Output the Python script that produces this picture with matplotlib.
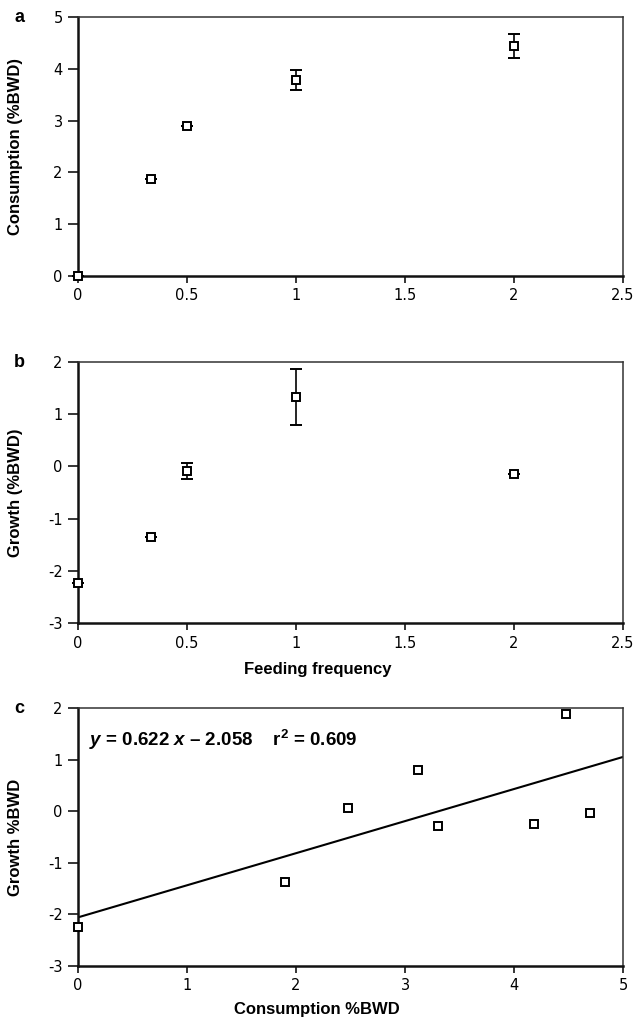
import numpy as np
import matplotlib
matplotlib.use("Agg")
import matplotlib.pyplot as plt

plt.rcParams["axes.unicode_minus"] = False
plt.rcParams["mathtext.fontset"] = "custom"
plt.rcParams["mathtext.rm"] = "Liberation Sans:bold"
plt.rcParams["mathtext.bf"] = "Liberation Sans:bold"
plt.rcParams["mathtext.it"] = "Liberation Sans:italic:bold"
plt.rcParams["mathtext.bfit"] = "Liberation Sans:italic:bold"

TICK_FONT = ["Liberation Sans Narrow", "DejaVu Sans"]
LABEL_FONT = ["Liberation Sans", "DejaVu Sans"]

# panel a: consumption vs feeding frequency
freq = [0, 0.333, 0.5, 1, 2]
consumption = [0, 1.87, 2.89, 3.79, 4.44]
consumption_err = [0, 0, 0, 0.19, 0.23]

# panel b: growth vs feeding frequency
growth = [-2.24, -1.36, -0.09, 1.33, -0.15]
growth_err = [0, 0, 0.16, 0.53, 0]

# panel c: growth vs consumption, individual points
cons_c = [0, 1.90, 2.48, 3.12, 3.30, 4.18, 4.48, 4.70]
growth_c = [-2.24, -1.38, 0.06, 0.79, -0.29, -0.25, 1.89, -0.03]
slope, intercept = 0.622, -2.058

freq_ticks = [0, 0.5, 1, 1.5, 2, 2.5]
freq_labels = ["0", "0.5", "1", "1.5", "2", "2.5"]
cons_ticks = [0, 1, 2, 3, 4, 5]
cons_yticks = [0, 1, 2, 3, 4, 5]
growth_ticks = [-3, -2, -1, 0, 1, 2]

fig = plt.figure(figsize=(6.36, 10.18), dpi=100)
axa = fig.add_axes([0.1226, 0.7289, 0.857, 0.2544])
axb = fig.add_axes([0.1226, 0.3880, 0.857, 0.2564])
axc = fig.add_axes([0.1226, 0.0511, 0.857, 0.2534])


def style(ax):
    for s in ["left", "bottom"]:
        ax.spines[s].set_linewidth(1.8)
        ax.spines[s].set_color("#111111")
    for s in ["top", "right"]:
        ax.spines[s].set_linewidth(1.1)
        ax.spines[s].set_color("#333333")
    ax.tick_params(axis="x", direction="out", length=5, width=1.1, pad=4)
    ax.tick_params(axis="y", direction="out", length=7, width=1.1, pad=4)
    for lab in ax.get_xticklabels() + ax.get_yticklabels():
        lab.set_family(TICK_FONT)
        lab.set_fontsize(10.5)


mk = dict(fmt="s", mfc="white", mec="black", mew=1.4, ms=6, ecolor="black",
          elinewidth=1.2, capsize=4, capthick=1.2, clip_on=False, zorder=3)

# a
axa.errorbar(freq, consumption, yerr=consumption_err, **mk)
axa.set_xlim(0, 2.5)
axa.set_ylim(0, 5)
axa.set_xticks(freq_ticks, freq_labels)
axa.set_yticks(cons_yticks, [str(v) for v in cons_yticks])
axa.set_ylabel("Consumption (%BWD)", family=LABEL_FONT, fontsize=12, fontweight="bold")
axa.yaxis.set_label_coords(-0.1, 0.5)
style(axa)

# b
axb.errorbar(freq, growth, yerr=growth_err, **mk)
axb.set_xlim(0, 2.5)
axb.set_ylim(-3, 2)
axb.set_xticks(freq_ticks, freq_labels)
axb.set_yticks(growth_ticks, [str(v) for v in growth_ticks])
axb.set_ylabel("Growth (%BWD)", family=LABEL_FONT, fontsize=12, fontweight="bold")
axb.yaxis.set_label_coords(-0.1, 0.5)
axb.set_xlabel("Feeding frequency", family=LABEL_FONT, fontsize=12, fontweight="bold")
axb.xaxis.set_label_coords(0.439, -0.15)
style(axb)

# c
xs = np.array([0, 5])
axc.plot(xs, slope * xs + intercept, color="black", lw=1.5, zorder=2)
axc.errorbar(cons_c, growth_c, **mk)
axc.set_xlim(0, 5)
axc.set_ylim(-3, 2)
axc.set_xticks(cons_ticks, [str(v) for v in cons_ticks])
axc.set_yticks(growth_ticks, [str(v) for v in growth_ticks])
axc.set_ylabel("Growth %BWD", family=LABEL_FONT, fontsize=12, fontweight="bold")
axc.yaxis.set_label_coords(-0.1, 0.5)
axc.set_xlabel("Consumption %BWD", family=LABEL_FONT, fontsize=12, fontweight="bold")
axc.xaxis.set_label_coords(0.439, -0.14)
axc.text(0.02, 0.875, r"$\mathit{y}$ = 0.622 $\mathit{x}$ – 2.058    r$^{2}$ = 0.609",
         transform=axc.transAxes, family=LABEL_FONT, fontsize=13.5, fontweight="bold",
         va="center", ha="left")
style(axc)

for ax, letter in [(axa, "a"), (axb, "b"), (axc, "c")]:
    ax.text(-0.108, 1.0, letter, transform=ax.transAxes, family=LABEL_FONT,
            fontsize=13, fontweight="bold", ha="center", va="center")

fig.savefig("out.png", dpi=100)
